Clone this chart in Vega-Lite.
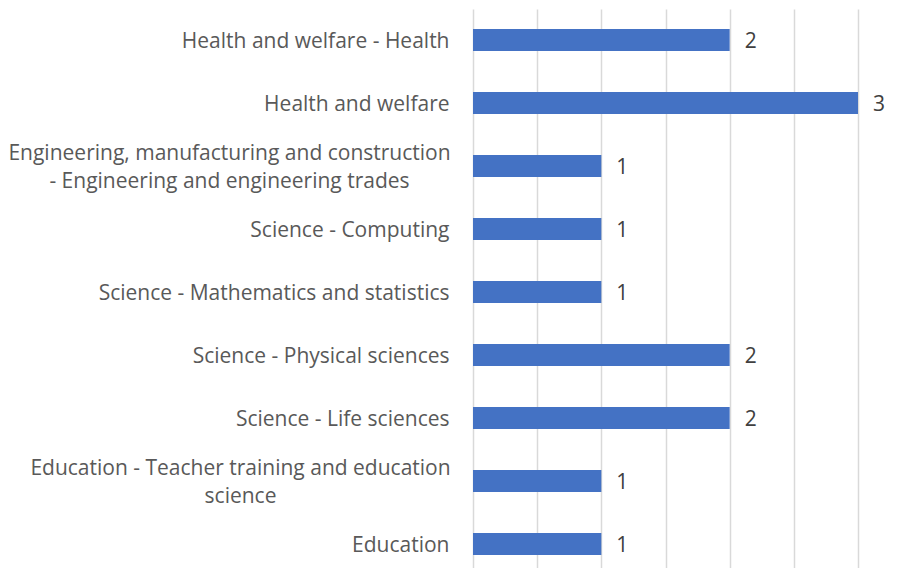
{
  "$schema": "https://vega.github.io/schema/vega-lite/v6.json",
  "autosize": {"type": "none"},
  "padding": {"left": 473, "top": 9, "right": 60, "bottom": 0},
  "width": 385,
  "height": 559,
  "background": "white",
  "config": {"view": {"stroke": null}},
  "data": {
    "values": [
      {"category": "Health and welfare - Health", "value": 2},
      {"category": "Health and welfare", "value": 3},
      {"category": "Engineering, manufacturing and construction|- Engineering and engineering trades", "value": 1},
      {"category": "Science - Computing", "value": 1},
      {"category": "Science - Mathematics and statistics", "value": 1},
      {"category": "Science - Physical sciences", "value": 2},
      {"category": "Science - Life sciences", "value": 2},
      {"category": "Education - Teacher training and education|science", "value": 1},
      {"category": "Education", "value": 1}
    ]
  },
  "encoding": {
    "y": {
      "field": "category",
      "type": "nominal",
      "sort": null,
      "scale": {"paddingInner": 0.65, "paddingOuter": 0.2615, "align": 0.606},
      "axis": {
        "title": null,
        "domain": false,
        "ticks": false,
        "tickSize": 0,
        "labelFont": "Open Sans",
        "labelFontSize": 21,
        "labelColor": "#595959",
        "labelLineHeight": 28,
        "labelLimit": 0,
        "labelExpr": "split(datum.value, '|')",
        "labelAlign": {"condition": {"test": "indexof(datum.value, '|') >= 0", "value": "center"}, "value": "right"},
        "labelOffset": {"condition": {"test": "indexof(datum.value, '|') >= 0", "value": -12}, "value": 2},
        "labelPadding": {"condition": [
          {"test": "indexof(datum.value, 'Engineering') >= 0", "value": 244},
          {"test": "indexof(datum.value, '|') >= 0", "value": 233}
        ], "value": 24}
      }
    },
    "x": {
      "field": "value",
      "type": "quantitative",
      "scale": {"domain": [0, 3], "nice": false},
      "axis": {
        "title": null,
        "values": [0, 0.5, 1, 1.5, 2, 2.5, 3],
        "labels": false,
        "ticks": false,
        "domain": false,
        "grid": true,
        "gridColor": "#d9d9d9",
        "gridWidth": 1.5
      }
    }
  },
  "layer": [
    {"mark": {"type": "bar", "color": "#4472C4"}},
    {
      "mark": {"type": "text", "align": "left", "baseline": "middle", "dx": 15, "dy": 2, "font": "Open Sans", "fontSize": 21, "color": "#404040"},
      "encoding": {"text": {"field": "value", "type": "quantitative"}}
    }
  ]
}
